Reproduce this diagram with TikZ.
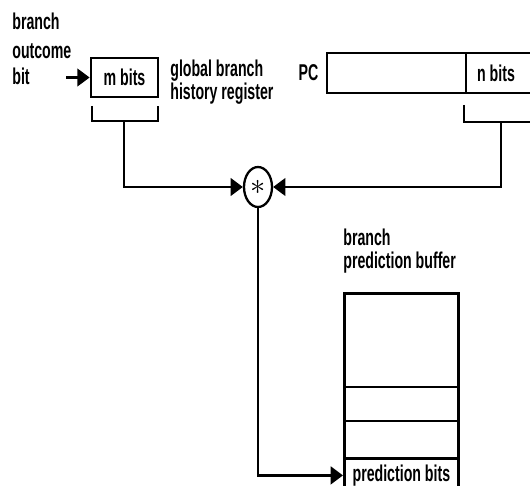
\documentclass[tikz,border=0pt]{standalone}
\usepackage{fontspec}
\setmainfont{Liberation Sans}[FakeStretch=0.62]
\usetikzlibrary{arrows.meta,shapes.geometric,positioning}
\newcommand\diagfont{\fontsize{13}{13}\selectfont\bfseries}

\begin{document}
\begin{tikzpicture}[x=0.02cm,y=-0.02cm,
  regbox/.style={draw,line width=1.6pt,inner sep=0pt,font=\diagfont},
  txt/.style={font=\diagfont,align=left,inner sep=0pt},
  wire/.style={line width=1.5pt},
  arr/.style={wire,-{Triangle[length=7pt,width=10pt]}},
]
\useasboundingbox (0,0) rectangle (530,486);
\clip (0,0) rectangle (530,486);

% === global history register ===
\node[txt,anchor=north west] (outlbl) at (12,13) {branch\\[3pt]outcome\\[2pt]bit};
\node[regbox,minimum width=1.34cm,minimum height=0.78cm] (ghr) at (124.5,77.5) {m bits};
\node[txt,anchor=north west] (ghrlbl) at (170,60) {global branch\\history register};
\coordinate (bitin) at (66,77.5);
\draw[arr] (bitin) -- (ghr.west);
\draw[wire] (92,106) -- (92,121) -- (158,121) -- (158,106);
\coordinate (ghrtap) at (124,121);

% === PC ===
\node[regbox,minimum width=4.26cm,minimum height=0.8cm] (pc) at (433.5,73) {};
\node[txt,left=0.14cm of pc] (pclbl) {PC};
\coordinate (pcsplit) at (466,53);
\draw[wire] (pcsplit) -- (pcsplit |- pc.south);
\node[txt] (nbits) at (496,73) {n bits};
\draw[wire] (464,105) -- (464,122) -- (540,122);
\coordinate (pctap) at (501,122);

% === combine ===
\node[draw,ellipse,line width=1.3pt,minimum width=0.56cm,minimum height=0.8cm,inner sep=0pt,font=\LARGE] (mul) at (258,187) {$\ast$};
\draw[arr] (ghrtap) |- (mul.west);
\draw[arr] (pctap) |- (mul.east);

% === prediction buffer ===
\node[txt,anchor=north west] (bpblbl) at (343,229) {branch\\prediction buffer};
\node[regbox,minimum width=2.28cm,minimum height=3.3cm,anchor=north west] (bpb) at (343,292) {};
\draw[wire] (343,387) -- (457,387);
\draw[wire] (343,421) -- (457,421);
\node[regbox,minimum width=2.28cm,minimum height=0.68cm,anchor=north west] (pbits) at (343,457) {prediction bits};
\draw[arr] (mul.south) |- (pbits.west);

\end{tikzpicture}
\end{document}
